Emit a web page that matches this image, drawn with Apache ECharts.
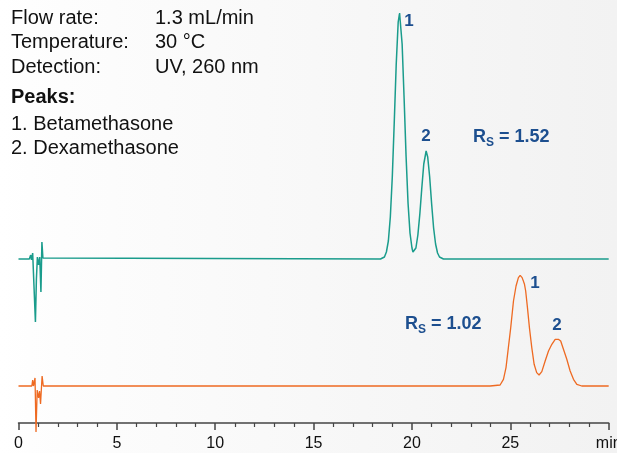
<!DOCTYPE html>
<html>
<head>
<meta charset="utf-8">
<script src="https://cdn.jsdelivr.net/npm/echarts@6/dist/echarts.min.js"></script>
<style>
  html, body { margin: 0; padding: 0; background: #fff; }
  #main { width: 617px; height: 453px; }
</style>
</head>
<body>
<div id="main"></div>
<script>
// retention time (min) and detector signal
// upper trace, Rs = 1.52
const tealTime = [0, 0.55, 0.62, 0.66, 0.72, 0.8, 0.86, 0.91, 0.96, 1.02, 1.08, 1.14, 1.19, 1.24, 1.3,
  18.4, 18.5, 18.6, 18.7, 18.8, 18.9, 19.0, 19.1, 19.2, 19.3, 19.37, 19.4, 19.5, 19.6, 19.7, 19.8, 19.9,
  20.0, 20.05, 20.1, 20.2, 20.3, 20.4, 20.5, 20.6, 20.72, 20.8, 20.9, 21.0, 21.1, 21.2, 21.3, 21.4, 21.5, 21.6, 30];
const tealSignal = [0, 0, 4, -1, 6, 6, -63, -20, 2, -6, 2, -33, 17, 1, 0,
  0, 0.6, 2, 7, 18, 42, 82, 137, 195, 237, 246, 244, 215, 161, 103, 56, 26,
  11, 7, 7, 11, 24, 45, 71, 95, 108, 102, 82, 55, 31, 15, 6, 2, 0.5, 0, 0];

// lower trace, Rs = 1.02
const orangeTime = [0, 0.68, 0.72, 0.76, 0.84, 0.89, 0.95, 1.02, 1.07, 1.12, 1.2, 1.26,
  23.97, 24.48, 24.65, 24.78, 24.9, 25.02, 25.16, 25.29, 25.41, 25.5, 25.6, 25.72, 25.78, 25.87, 25.97,
  26.09, 26.21, 26.34, 26.46, 26.6, 26.77, 26.94, 27.11, 27.28, 27.44, 27.56, 27.7, 27.87, 28.04,
  28.21, 28.38, 28.63, 30];
const orangeSignal = [0, 0, 6, 0, 8, -46, -4, -12, -5, -18, 10, 0,
  0, 1, 6.7, 18.4, 38.4, 58.4, 85, 100, 108.4, 110.7, 108.4, 101.7, 95, 78.4, 58.4,
  38.4, 21.7, 13.4, 11, 14.4, 25, 35, 41.7, 46.7, 46.7, 45, 36.7, 26.7, 15,
  6.7, 1.7, 0, 0];

const xTicks = [0, 5, 10, 15, 20, 25, 30];

const conditions = [
  ['Flow rate:', '1.3 mL/min'],
  ['Temperature:', '30 \u00b0C'],
  ['Detection:', 'UV, 260 nm']
];
const peakNames = ['1. Betamethasone', '2. Dexamethasone'];

const FONT = '"Liberation Sans", Arial, Helvetica, sans-serif';
const LABEL_BLUE = '#1d4f8f';
const tealOffset = 164;
const orangeOffset = 37;

function toPairs(times, values, offset) {
  return times.map((t, i) => [t, values[i] + offset]);
}

const graphics = [];
conditions.forEach((row, i) => {
  const y = 18 + i * 24.5;
  graphics.push({ type: 'text', left: 11, top: y - 10, style: { text: row[0], font: '20px ' + FONT, fill: '#111' } });
  graphics.push({ type: 'text', left: 155, top: y - 10, style: { text: row[1], font: '20px ' + FONT, fill: '#111' } });
});
graphics.push({ type: 'text', left: 11, top: 87, style: { text: 'Peaks:', font: 'bold 20px ' + FONT, fill: '#111' } });
peakNames.forEach((name, i) => {
  graphics.push({ type: 'text', left: 11, top: 114 + i * 24, style: { text: name, font: '20px ' + FONT, fill: '#111' } });
});

function peakLabel(text, x, y) {
  return { type: 'text', x: x, y: y, style: { text: text, font: 'bold 17px ' + FONT, fill: LABEL_BLUE, align: 'center', verticalAlign: 'middle' } };
}
function rsLabel(value, x, y) {
  return {
    type: 'text', x: x, y: y,
    style: {
      text: '{r|R}{s|S}{r| = ' + value + '}',
      verticalAlign: 'middle',
      rich: {
        r: { font: 'bold 18px ' + FONT, fill: LABEL_BLUE, lineHeight: 24, verticalAlign: 'middle' },
        s: { font: 'bold 12px ' + FONT, fill: LABEL_BLUE, lineHeight: 24, verticalAlign: 'bottom' }
      }
    }
  };
}
graphics.push(peakLabel('1', 409, 21));
graphics.push(peakLabel('2', 426, 136));
graphics.push(rsLabel('1.52', 473, 137));
graphics.push(peakLabel('1', 535, 283));
graphics.push(peakLabel('2', 557, 325));
graphics.push(rsLabel('1.02', 405, 324));

const options = {
  animation: false,
  backgroundColor: {
    type: 'linear', x: 0, y: 0, x2: 1, y2: 0,
    colorStops: [
      { offset: 0, color: '#ffffff' },
      { offset: 0.1, color: '#fdfdfd' },
      { offset: 1, color: '#f2f2f2' }
    ]
  },
  grid: { left: 18.5, right: 8.3, top: 0, bottom: 30, outerBoundsMode: 'none', containLabel: false },
  xAxis: {
    type: 'value',
    min: xTicks[0],
    max: xTicks[xTicks.length - 1],
    interval: 5,
    axisLine: { onZero: false, lineStyle: { color: '#444', width: 1.5 } },
    axisTick: { show: true, length: 7, lineStyle: { color: '#444', width: 1.5 } },
    minorTick: { show: true, splitNumber: 5, length: 4, lineStyle: { color: '#444', width: 1.2 } },
    splitLine: { show: false },
    axisLabel: {
      fontFamily: FONT, fontSize: 16, color: '#111', margin: 13,
      formatter: v => (v === 30 ? 'min' : String(v))
    }
  },
  yAxis: { type: 'value', min: 0, max: 423, show: false, splitLine: { show: false } },
  series: [
    {
      type: 'line', data: toPairs(tealTime, tealSignal, tealOffset), showSymbol: false, clip: false, silent: true,
      lineStyle: { color: '#1a9c8c', width: 1.5 }
    },
    {
      type: 'line', data: toPairs(orangeTime, orangeSignal, orangeOffset), showSymbol: false, clip: false, silent: true,
      lineStyle: { color: '#ee6a22', width: 1.3 }
    }
  ],
  graphic: { elements: graphics }
};

const myChart = echarts.init(document.getElementById('main'));
myChart.setOption(options);
</script>
</body>
</html>
